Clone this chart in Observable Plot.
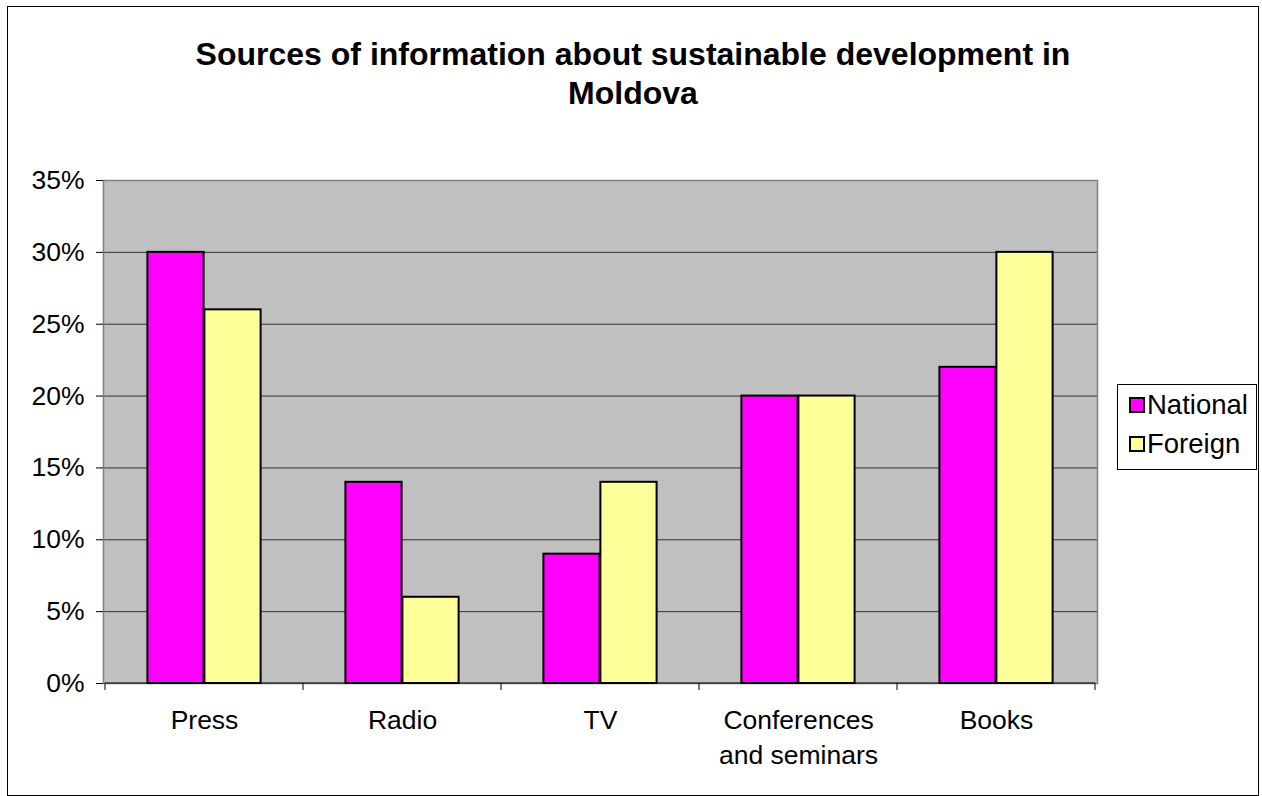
<!DOCTYPE html>
<html>
<head>
<meta charset="utf-8">
<script src="https://cdn.jsdelivr.net/npm/d3@7"></script>
<script src="https://cdn.jsdelivr.net/npm/@observablehq/plot@0.6"></script>
<style>
  body { margin: 0; background: #fff; font-family: "Liberation Sans", Arial, sans-serif; }
  #wrap { position: relative; width: 1262px; height: 796px; }
  #border { position: absolute; left: 7px; top: 6px; width: 1250px; height: 788px; border: 1px solid #000; box-sizing: content-box; pointer-events: none; }
  #title { position: absolute; left: 7px; width: 1252px; top: 35px; text-align: center; font-weight: bold; font-size: 32px; line-height: 39px; color: #000; }
  #legend { position: absolute; left: 1117px; top: 384px; width: 138px; height: 84px; border: 1px solid #000; background: #fff; font-size: 27.5px; }
  .item { position: absolute; left: 11px; display: flex; align-items: center; height: 32px; }
  .sw { width: 12px; height: 12px; border: 2px solid #000; margin-right: 2px; }
  #chart { position: absolute; left: 0; top: 0; }
</style>
</head>
<body>
<div id="wrap">
  <div id="chart"></div>
  <div id="border"></div>
  <div id="title">Sources of information about sustainable development in<br>Moldova</div>
  <div id="legend"></div>
</div>
<script>
const categories = ["Press", "Radio", "TV", "Conferences\nand seminars", "Books"];
const seriesNames = ["National", "Foreign"];
const national = [0.30, 0.14, 0.09, 0.20, 0.22];
const foreign = [0.26, 0.06, 0.14, 0.20, 0.30];
const yTicks = [0, 0.05, 0.10, 0.15, 0.20, 0.25, 0.30, 0.35];
const colors = {National: "#ff00ff", Foreign: "#ffff99"};

const rows = [];
categories.forEach((c, i) => {
  rows.push({category: c, series: "National", value: national[i]});
  rows.push({category: c, series: "Foreign", value: foreign[i]});
});

const band = 994 / categories.length;
const barW = 57;
const offL = (band - 2 * barW) / 2;

const plot = Plot.plot({
  width: 1262,
  height: 796,
  marginTop: 180,
  marginBottom: 113,
  marginLeft: 103,
  marginRight: 165,
  style: {fontFamily: "Liberation Sans, Arial, sans-serif", fontSize: "26.5px", color: "#000", background: "transparent"},
  x: {domain: categories, padding: 0, label: null},
  y: {domain: [0, 0.35], label: null},
  color: {domain: seriesNames, range: seriesNames.map(s => colors[s])},
  marks: [
    Plot.frame({fill: "#c0c0c0", stroke: null}),
    Plot.ruleY(yTicks, {stroke: "#333", strokeWidth: 1}),
    Plot.frame({stroke: "#808080", strokeWidth: 1.5}),
    Plot.barY(rows.filter(d => d.series === "National"), {
      x: "category", y: "value", fill: "series", stroke: "#000", strokeWidth: 2,
      insetLeft: offL, insetRight: band - offL - barW
    }),
    Plot.barY(rows.filter(d => d.series === "Foreign"), {
      x: "category", y: "value", fill: "series", stroke: "#000", strokeWidth: 2,
      insetLeft: offL + barW, insetRight: band - offL - 2 * barW
    }),
    Plot.axisY({ticks: yTicks, tickFormat: d => Math.round(d * 100) + "%", tickSize: 7, tickPadding: 12, fontSize: 26.5, stroke: "#000"}),
    Plot.axisX({tickSize: 0, tickPadding: 21, fontSize: 26.5, lineHeight: 1.32})
  ]
});
document.getElementById("chart").appendChild(plot);

// boundary ticks between categories, positioned with the plot's scales
const xs = plot.scale("x"), ys = plot.scale("y");
const svg = d3.select(plot);
const y0 = ys.apply(0);
const bounds = categories.map(c => xs.apply(c)).concat([xs.apply(categories[categories.length - 1]) + xs.bandwidth]);
svg.append("g").selectAll("line").data(bounds).join("line")
  .attr("x1", d => d).attr("x2", d => d).attr("y1", y0).attr("y2", y0 + 7)
  .attr("stroke", "#000");
svg.append("line").attr("x1", bounds[0]).attr("x2", bounds[bounds.length - 1]).attr("y1", y0).attr("y2", y0).attr("stroke", "#000");

const legend = document.getElementById("legend");
seriesNames.forEach((s, i) => {
  const it = document.createElement("div");
  it.className = "item";
  it.style.top = (4 + i * 39) + "px";
  it.innerHTML = `<div class="sw" style="background:${colors[s]}"></div><span>${s}</span>`;
  legend.appendChild(it);
});
</script>
</body>
</html>
